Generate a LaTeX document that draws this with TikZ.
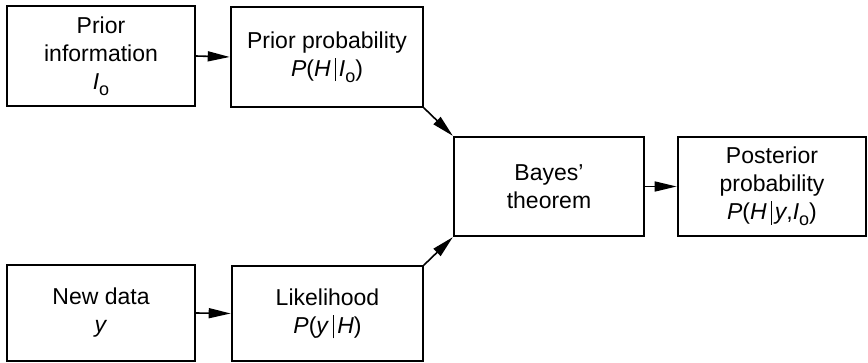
\documentclass[tikz,border=0pt]{standalone}
\usepackage{fontspec}
\setmainfont{Liberation Sans}
\usetikzlibrary{arrows.meta}
% thin conditioning bar
\newcommand{\cbar}{\,\rule[-0.22em]{0.5pt}{1.02em}\,}
% I with a lowered subscript o
\newcommand{\Io}{\textit{I}\raisebox{-0.28em}{\fontsize{18}{18}\selectfont o}}
\begin{document}
\begin{tikzpicture}[x=1pt,y=-1pt,
  stepbox/.style={draw, line width=1.6pt, rectangle, inner sep=0pt,
    align=center, font=\fontsize{23}{28}\selectfont},
  flow/.style={line width=1.6pt, -{Triangle[length=22pt,width=10pt]}, shorten >=0.5pt}]
  \useasboundingbox (0,0) rectangle (868,363);
  % top row
  \node[stepbox, minimum width=188pt, minimum height=100pt] (info) at (101,56)
    {Prior\\information\\\Io};
  \node[stepbox, minimum width=192pt, minimum height=100pt] (prior) at (327,57)
    {Prior probability\\\textit{P}(\textit{H}\cbar\Io)};
  % middle row
  \node[stepbox, minimum width=190pt, minimum height=99pt] (bayes) at (549,186.5)
    {Bayes'\\theorem};
  \node[stepbox, minimum width=188pt, minimum height=99pt] (post) at (772,186.5)
    {Posterior\\probability\\\textit{P}(\textit{H}\cbar\textit{y},\Io)};
  % bottom row
  \node[stepbox, minimum width=188pt, minimum height=96pt] (data) at (101,313)
    {New data\\\textit{y}};
  \node[stepbox, minimum width=191pt, minimum height=95pt] (like) at (327.5,313.5)
    {Likelihood\\\textit{P}(\textit{y}\cbar\textit{H})};
  % connectors
  \draw[flow] (info.east) -- (prior.west);
  \draw[flow] (data.east) -- (like.west);
  \draw[flow] (bayes.east) -- (post.west);
  \draw[flow] (prior.south east) -- (bayes.north west);
  \draw[flow] (like.north east) -- (bayes.south west);
\end{tikzpicture}
\end{document}
